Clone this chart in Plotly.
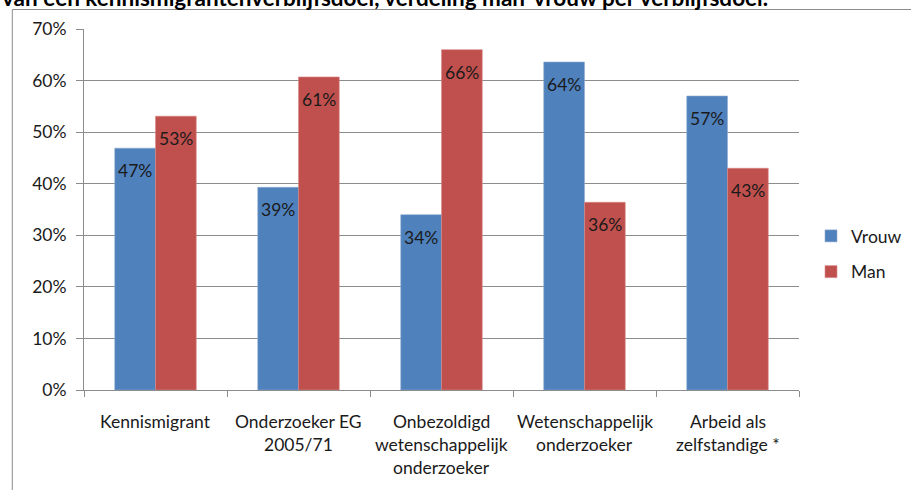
import plotly.graph_objects as go

# Verblijfsdoelen (categorieën) en aandeel per geslacht (%)
categories = [
    "Kennismigrant",
    "Onderzoeker EG<br>2005/71",
    "Onbezoldigd<br>wetenschappelijk<br>onderzoeker",
    "Wetenschappelijk<br>onderzoeker",
    "Arbeid als<br>zelfstandige *",
]
vrouw = [46.9, 39.3, 34.0, 63.6, 57.0]
man = [53.1, 60.7, 66.0, 36.4, 43.0]
y_ticks = [0, 10, 20, 30, 40, 50, 60, 70]

title_text = "van een kennismigrantenverblijfsdoel, verdeling man-vrouw per verblijfsdoel."

W, H = 911, 490
ML, MR, MT, MB = 84, 109, 29, 100
PW = W - ML - MR
PH = H - MT - MB
BARGAP = 0.43

BLUE = "#4F81BD"
RED = "#C0504D"
GRID = "#8c8c8c"
TXT = "#1a1a1a"
FONT = "Lato"
FS = 17.5

cat_keys = [c.replace("<br>", " ") for c in categories]

fig = go.Figure()
fig.add_trace(go.Bar(name="Vrouw", x=cat_keys, y=vrouw, marker_color=BLUE,
                     marker_line=dict(color="#8eabd2", width=0.6),
                     legendgroup="v"))
fig.add_trace(go.Bar(name="Man", x=cat_keys, y=man, marker_color=RED,
                     marker_line=dict(color="#d68a88", width=0.6),
                     legendgroup="m"))

# data labels inside the top of each bar
bar_w = PW / len(categories) * (1 - BARGAP) / 2
annotations = []
for series, shift in ((vrouw, -bar_w / 2), (man, bar_w / 2)):
    for c, v in zip(cat_keys, series):
        annotations.append(dict(
            x=c, xref="x", y=v, yref="y", xshift=shift, yshift=-22.5,
            yanchor="middle", xanchor="center", showarrow=False,
            text=f"{v:.0f}%", font=dict(family=FONT, size=FS, color=TXT)))

# multi-line category labels under the axis
for c, label in zip(cat_keys, categories):
    for i, line in enumerate(label.split("<br>")):
        annotations.append(dict(
            x=c, xref="x", y=0, yref="paper", yshift=-31 - 23.4 * i,
            yanchor="middle", xanchor="center", showarrow=False,
            text=line, font=dict(family=FONT, size=FS, color=TXT)))

# title line along the top edge
annotations.append(dict(
    x=-ML / PW, xref="paper", y=(PH + MT - 13) / PH, yref="paper",
    xanchor="left", yanchor="bottom", showarrow=False,
    text=f"<b>{title_text}</b>", font=dict(family=FONT, size=22.5, color="#000000")))

fig.update_layout(
    width=W, height=H,
    margin=dict(l=ML, r=MR, t=MT, b=MB),
    paper_bgcolor="white", plot_bgcolor="white",
    barmode="group", bargap=BARGAP, bargroupgap=0,
    showlegend=True,
    legend=dict(xref="container", yref="container",
                x=811 / W, xanchor="left", y=1 - 254 / H, yanchor="middle",
                font=dict(family=FONT, size=FS, color=TXT),
                traceorder="grouped", tracegroupgap=10,
                bgcolor="rgba(0,0,0,0)"),
    annotations=annotations,
    font=dict(family=FONT, color=TXT),
    shapes=[dict(type="rect", xref="paper", yref="paper",
                 x0=(12 - ML) / PW, x1=(W + 20 - ML) / PW,
                 y0=(PH + MT - H - 20) / PH, y1=(PH + MT - 9.5) / PH,
                 line=dict(color="#8c8c8c", width=1), layer="below")],
)

fig.update_xaxes(
    type="category", showticklabels=False,
    showline=True, linecolor=GRID, linewidth=1,
    ticks="outside", tickson="boundaries", ticklen=6, tickcolor=GRID,
    showgrid=False,
)
fig.update_yaxes(
    range=[0, 70], tickvals=y_ticks, ticktext=[f"{t}%" for t in y_ticks],
    showline=True, linecolor=GRID, linewidth=1,
    ticks="outside", ticklen=7, tickcolor=GRID, ticklabelstandoff=6,
    showgrid=True, gridcolor=GRID, gridwidth=1,
    tickfont=dict(family=FONT, size=FS, color=TXT),
    zeroline=False,
)

fig.write_html("out.html")
